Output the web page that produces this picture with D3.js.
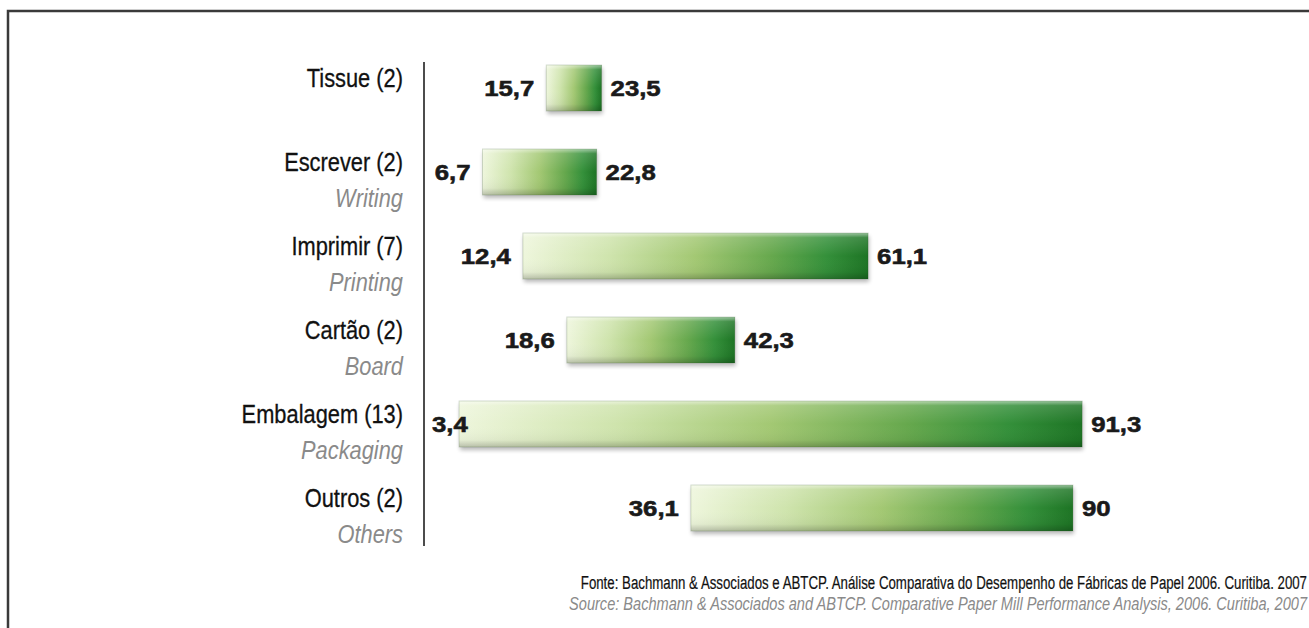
<!DOCTYPE html>
<html>
<head>
<meta charset="utf-8">
<script src="https://cdn.jsdelivr.net/npm/d3@7/dist/d3.min.js"></script>
<style>
  html, body { margin: 0; padding: 0; background: #fff; }
  svg { display: block; }
</style>
</head>
<body>
<svg id="chart" width="1309" height="628"></svg>
<script>
// Paper segments: lowest and highest value per segment (number of mills in brackets)
const categories = ["Tissue (2)", "Escrever (2)", "Imprimir (7)", "Cartão (2)", "Embalagem (13)", "Outros (2)"];
const categoriesEn = ["", "Writing", "Printing", "Board", "Packaging", "Others"];
const minValues = [15.7, 6.7, 12.4, 18.6, 3.4, 36.1];
const maxValues = [23.5, 22.8, 61.1, 42.3, 91.3, 90];
const sourcePt = "Fonte: Bachmann & Associados e ABTCP. Análise Comparativa do Desempenho de Fábricas de Papel 2006. Curitiba. 2007";
const sourceEn = "Source: Bachmann & Associados and ABTCP. Comparative Paper Mill Performance Analysis, 2006. Curitiba, 2007";

const rows = categories.map((c, i) => ({
  cat: c, en: categoriesEn[i], lo: minValues[i], hi: maxValues[i]
}));

const fmt = v => String(v).replace(".", ",");

const svg = d3.select("#chart");
const W = 1309, H = 628;

svg.append("rect").attr("width", W).attr("height", H).attr("fill", "#fff");

// frame: top and left edges
svg.append("path")
  .attr("d", `M8,${H} L8,11 L${W},11`)
  .attr("fill", "none")
  .attr("stroke", "#3a3a3a")
  .attr("stroke-width", 2.5);

const x = d3.scaleLinear().domain([0, 100]).range([435, 435 + 708.8]);
const y = d3.scalePoint().domain(categories).range([88, 508]);
const barH = 46;
const axisX = 424;

const defs = svg.append("defs");
const g1 = defs.append("linearGradient").attr("id", "barFill")
  .attr("x1", "0%").attr("x2", "100%").attr("y1", "0%").attr("y2", "0%");
[[0, "#eef6dc"], [0.25, "#cfe4ad"], [0.5, "#a3c873"], [0.72, "#66a84d"], [0.88, "#34903a"], [1, "#1d7424"]]
  .forEach(([o, c]) => g1.append("stop").attr("offset", o).attr("stop-color", c));

const g2 = defs.append("linearGradient").attr("id", "barShade")
  .attr("x1", "0%").attr("x2", "0%").attr("y1", "0%").attr("y2", "100%");
[[0, "#ffffff", 0.55], [0.1, "#ffffff", 0.15], [0.5, "#ffffff", 0], [0.85, "#000000", 0.04], [1, "#000000", 0.22]]
  .forEach(([o, c, a]) => g2.append("stop").attr("offset", o).attr("stop-color", c).attr("stop-opacity", a));

const blur = defs.append("filter").attr("id", "soft")
  .attr("x", "-10%").attr("y", "-30%").attr("width", "120%").attr("height", "160%");
blur.append("feGaussianBlur").attr("stdDeviation", 2);

// axis line
svg.append("line")
  .attr("x1", axisX).attr("x2", axisX)
  .attr("y1", 62).attr("y2", 546)
  .attr("stroke", "#111").attr("stroke-width", 1.5);

const row = svg.selectAll("g.row").data(rows).join("g").attr("class", "row");

// shadow beneath each bar
row.append("rect")
  .attr("x", d => x(d.lo) + 1)
  .attr("y", d => y(d.cat) - barH / 2 + 3)
  .attr("width", d => x(d.hi) - x(d.lo))
  .attr("height", barH)
  .attr("fill", "#000")
  .attr("opacity", 0.28)
  .attr("filter", "url(#soft)");

row.append("rect")
  .attr("x", d => x(d.lo))
  .attr("y", d => y(d.cat) - barH / 2)
  .attr("width", d => x(d.hi) - x(d.lo))
  .attr("height", barH)
  .attr("fill", "url(#barFill)");

row.append("rect")
  .attr("x", d => x(d.lo))
  .attr("y", d => y(d.cat) - barH / 2)
  .attr("width", d => x(d.hi) - x(d.lo))
  .attr("height", barH)
  .attr("fill", "url(#barShade)")
  .attr("stroke", "rgba(40,80,30,0.18)")
  .attr("stroke-width", 1);

const valueFont = "'Liberation Sans', Arial, sans-serif";
const valueStretch = 1.12;

// low value, left of bar (kept clear of the axis line)
row.append("text")
  .attr("text-anchor", "end")
  .attr("font-family", valueFont)
  .attr("font-weight", "bold")
  .attr("font-size", 23)
  .attr("fill", "#1a1a1a")
  .attr("stroke", "#1a1a1a")
  .attr("stroke-width", 0.6)
  .text(d => fmt(d.lo))
  .each(function (d) {
    const w = this.getComputedTextLength() * valueStretch;
    const xe = Math.max(x(d.lo) - 12, axisX + 8 + w);
    d3.select(this).attr("transform", `translate(${xe},${y(d.cat) + 8}) scale(${valueStretch},1)`);
  });

// high value, right of bar
row.append("text")
  .attr("font-family", valueFont)
  .attr("font-weight", "bold")
  .attr("font-size", 23)
  .attr("fill", "#1a1a1a")
  .attr("stroke", "#1a1a1a")
  .attr("stroke-width", 0.6)
  .attr("transform", d => `translate(${x(d.hi) + 9},${y(d.cat) + 8}) scale(${valueStretch},1)`)
  .text(d => fmt(d.hi));

// condensed look: regular sans squeezed horizontally
const labelFont = "'Liberation Sans', Arial, sans-serif";
const squeeze = (sel, px, py, sx) => sel.attr("transform", `translate(${px},${py}) scale(${sx},1)`);

row.append("text")
  .attr("text-anchor", "end")
  .attr("font-family", labelFont)
  .attr("font-size", 26)
  .attr("fill", "#111")
  .attr("stroke", "#111")
  .attr("stroke-width", 0.3)
  .text(d => d.cat)
  .each(function (d) { squeeze(d3.select(this), 403, y(d.cat) - 1, 0.84); });

row.filter(d => d.en).append("text")
  .attr("text-anchor", "end")
  .attr("font-family", labelFont)
  .attr("font-style", "italic")
  .attr("font-size", 26)
  .attr("fill", "#8a8a8a")
  .text(d => d.en)
  .each(function (d) { squeeze(d3.select(this), 403, y(d.cat) + 35, 0.84); });

// source notes
svg.append("text")
  .attr("text-anchor", "end")
  .attr("font-family", labelFont)
  .attr("font-size", 18)
  .attr("fill", "#111")
  .attr("stroke", "#111")
  .attr("stroke-width", 0.2)
  .attr("transform", "translate(1307,589) scale(0.737,1)")
  .text(sourcePt);

svg.append("text")
  .attr("text-anchor", "end")
  .attr("font-family", labelFont)
  .attr("font-style", "italic")
  .attr("font-size", 18)
  .attr("fill", "#8a8a8a")
  .attr("transform", "translate(1307,610) scale(0.81,1)")
  .text(sourceEn);
</script>
</body>
</html>
